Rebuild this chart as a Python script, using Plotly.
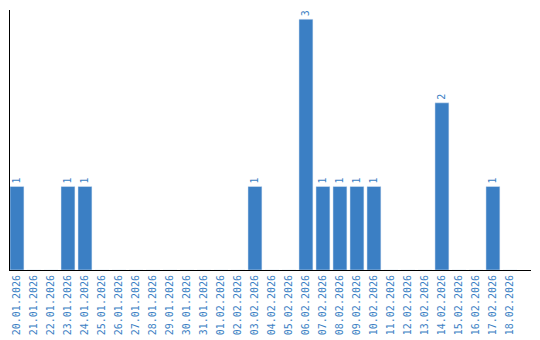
import plotly.graph_objects as go

dates = ["20.01.2026","21.01.2026","22.01.2026","23.01.2026","24.01.2026","25.01.2026",
         "26.01.2026","27.01.2026","28.01.2026","29.01.2026","30.01.2026","31.01.2026",
         "01.02.2026","02.02.2026","03.02.2026","04.02.2026","05.02.2026","06.02.2026",
         "07.02.2026","08.02.2026","09.02.2026","10.02.2026","11.02.2026","12.02.2026",
         "13.02.2026","14.02.2026","15.02.2026","16.02.2026","17.02.2026","18.02.2026"]
counts = [1,0,0,1,1,0,0,0,0,0,0,0,0,0,1,0,0,3,1,1,1,1,0,0,0,2,0,0,1,0]

labels = [str(c) if c else "" for c in counts]
blue = "#3b7fc4"

fig = go.Figure(go.Bar(
    x=dates, y=counts, marker_color=blue, width=0.82,
    text=labels, textposition="outside", textangle=-90,
    textfont=dict(family="DejaVu Sans Mono", size=10, color=blue),
    cliponaxis=False,
))
fig.update_layout(
    width=540, height=340, margin=dict(l=10, r=9, t=10, b=70),
    plot_bgcolor="white", paper_bgcolor="white", showlegend=False,
    xaxis=dict(type="category", range=[-0.41, 30.24], showline=True, linecolor="black",
               linewidth=1, ticks="", tickangle=-90, showgrid=False, automargin=False,
               tickfont=dict(family="DejaVu Sans Mono", size=10, color=blue)),
    yaxis=dict(range=[0, 3.11], showline=True, linecolor="black", linewidth=1,
               showgrid=False, showticklabels=False, ticks="", zeroline=False,
               automargin=False),
)
fig.write_html("out.html")
